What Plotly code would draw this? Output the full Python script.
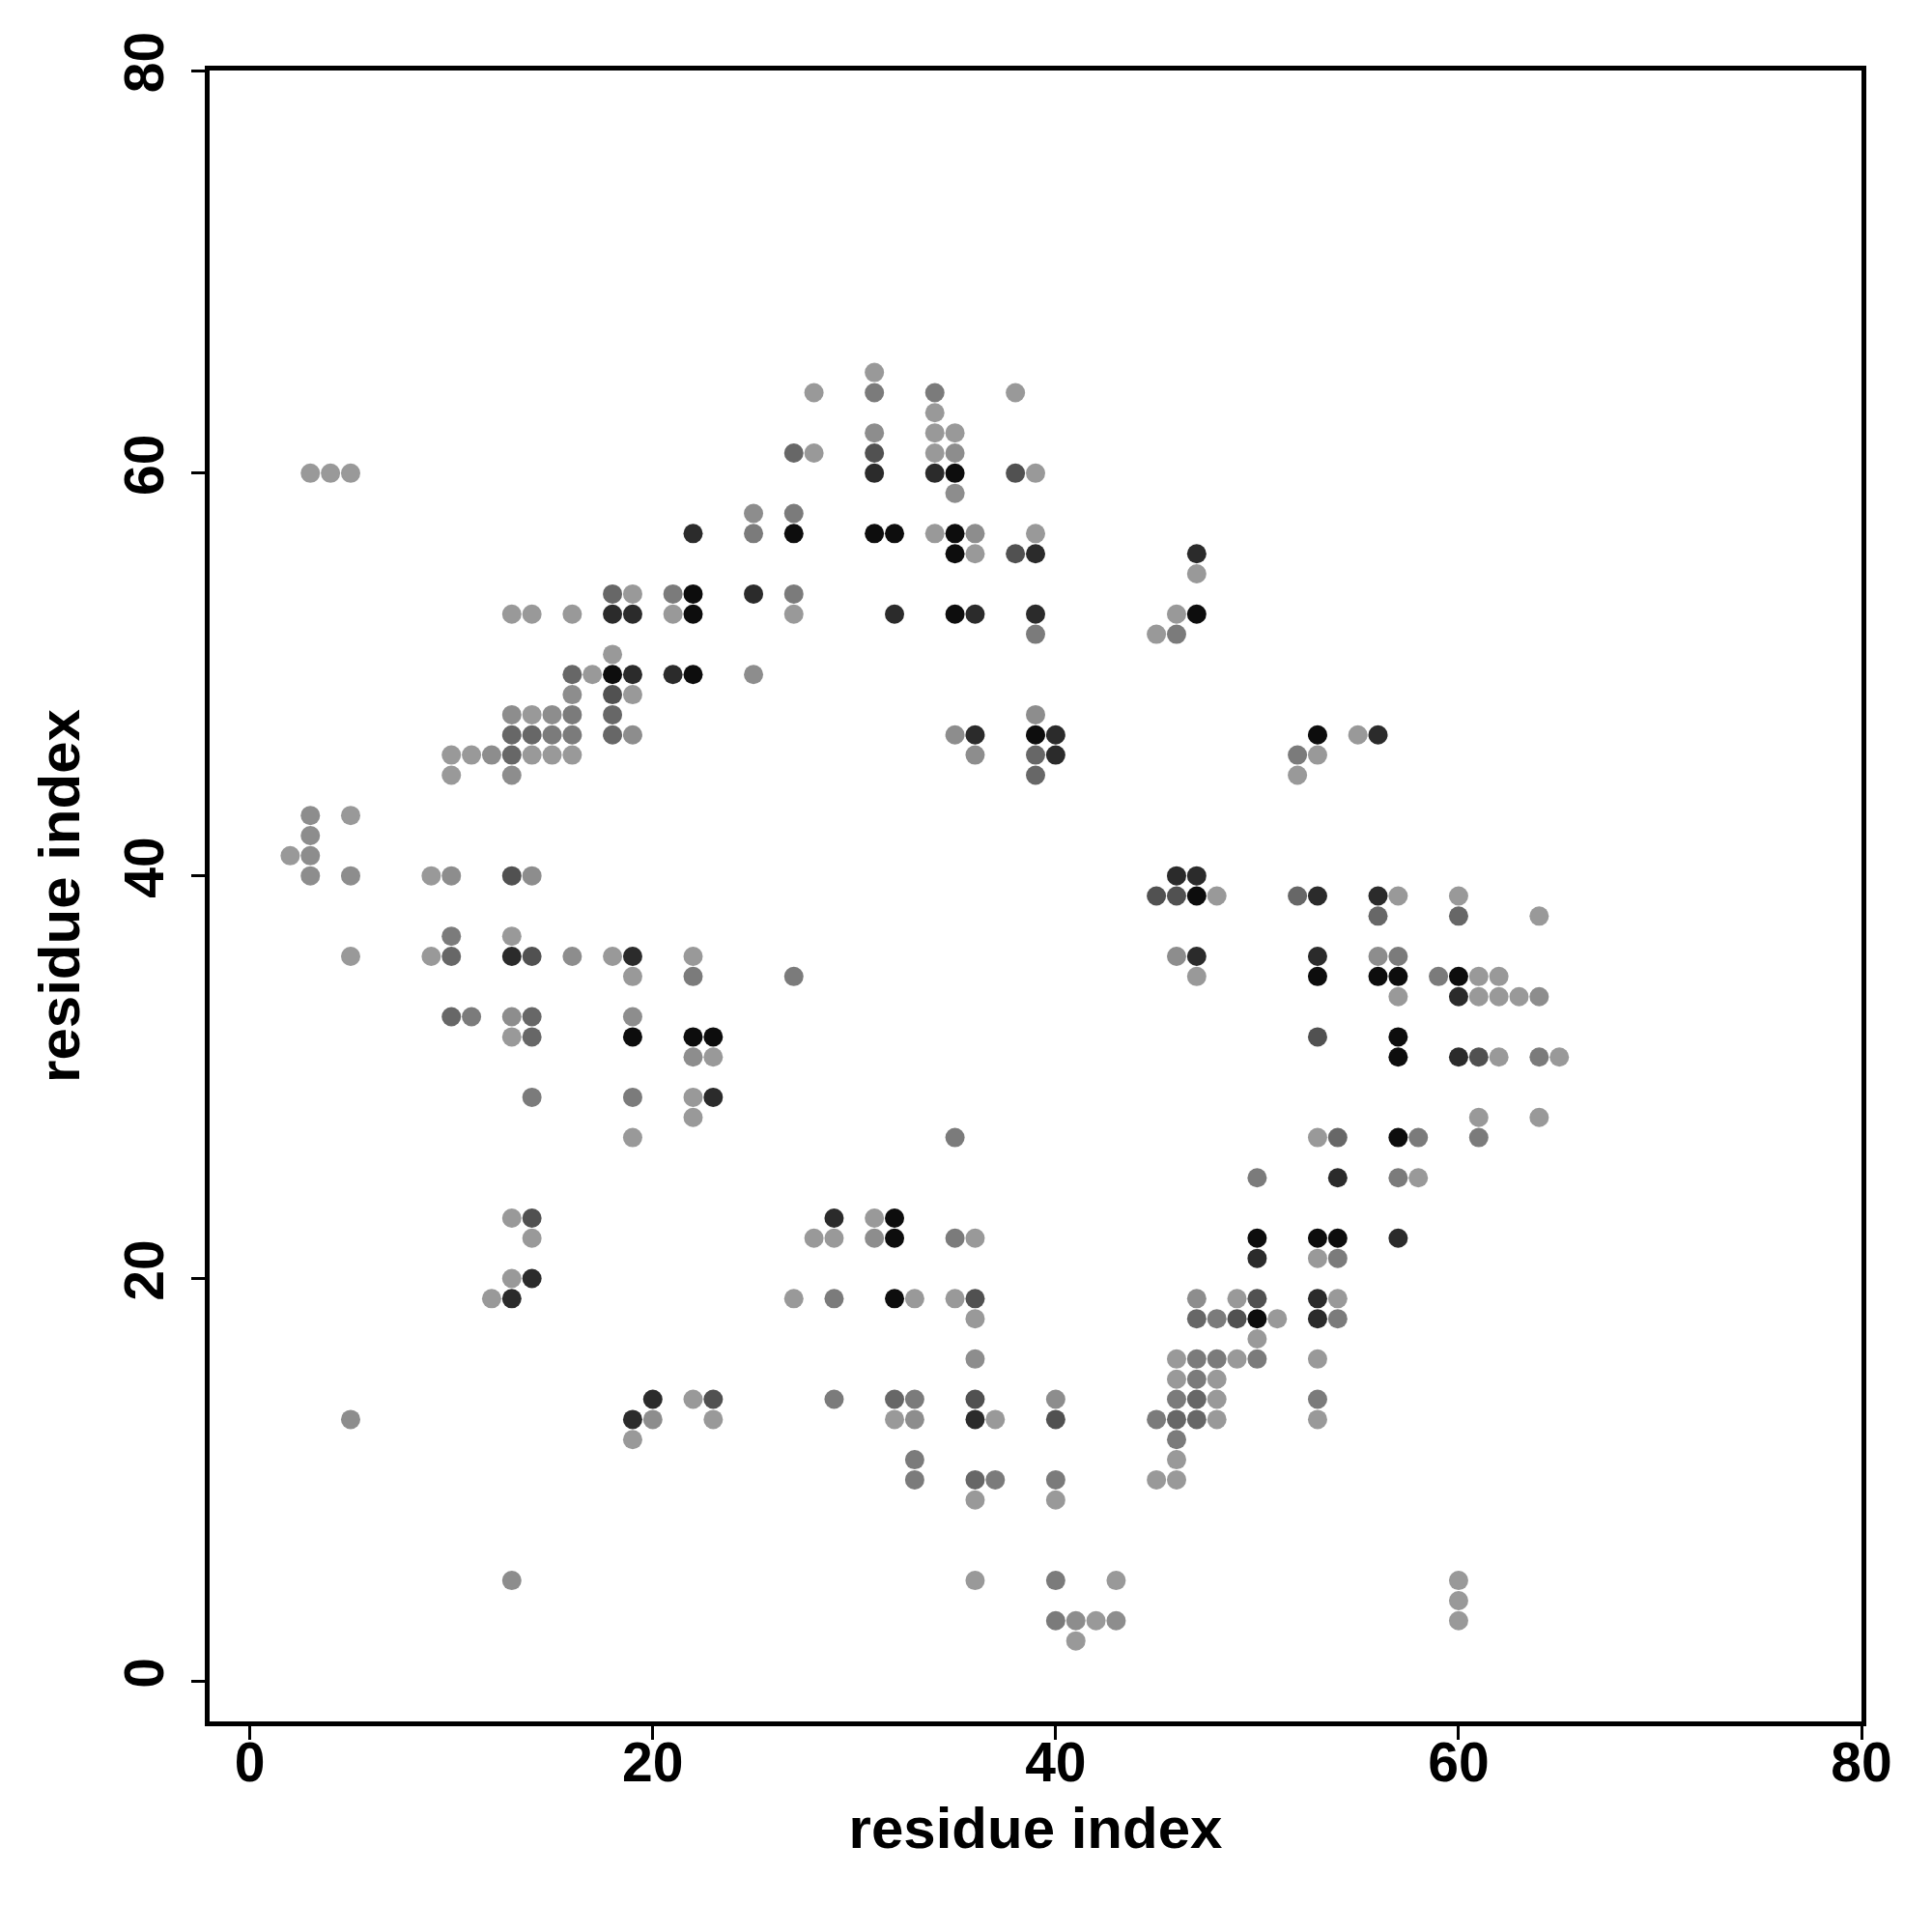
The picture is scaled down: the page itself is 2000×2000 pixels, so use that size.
import plotly.graph_objects as go

# Contact map: residue i (x), residue j (y), contact probability (grey shade)
res_i = (
    [2] + [3]*5 + [4] + [5]*5 + [9]*2 + [10]*6 + [11]*2 + [12]*2 + [13]*14 + [14]*12 +
    [15]*3 + [16]*7 + [17] + [18]*8 + [19]*13 + [20]*2 + [21]*3 + [22]*11 + [23]*5 +
    [25]*4 + [27]*7 + [28]*3 + [29]*4 + [31]*8 + [32]*7 + [33]*5 + [34]*6 + [35]*11 +
    [36]*14 + [37]*2 + [38]*3 + [39]*9 + [40]*8 + [41]*2 + [42] + [43]*2 + [45]*4 +
    [46]*12 + [47]*13 + [48]*6 + [49]*3 + [50]*7 + [51] + [52]*3 + [53]*14 + [54]*6 +
    [55] + [56]*5 + [57]*9 + [58]*2 + [59] + [60]*8 + [61]*5 + [62]*3 + [63] + [64]*4 + [65]
)

res_j = [
    41,
    60, 43, 42, 41, 40,
    60,
    60, 43, 40, 36, 13,
    40, 36,
    46, 45, 40, 37, 36, 33,
    46, 33,
    46, 19,
    53, 48, 47, 46, 45, 40, 37, 36, 33, 32, 23, 20, 19, 5,
    53, 48, 47, 46, 40, 36, 33, 32, 29, 23, 22, 20,
    48, 47, 46,
    53, 50, 49, 48, 47, 46, 36,
    50,
    54, 53, 51, 50, 49, 48, 47, 36,
    54, 53, 50, 49, 47, 36, 35, 33, 32, 29, 27, 13, 12,
    14, 13,
    54, 53, 50,
    57, 54, 53, 50, 36, 35, 32, 31, 29, 28, 14,
    32, 31, 29, 14, 13,
    58, 57, 54, 50,
    61, 58, 57, 54, 53, 35, 19,
    64, 61, 22,
    23, 22, 19, 14,
    65, 64, 62, 61, 60, 57, 23, 22,
    57, 53, 23, 22, 19, 14, 13,
    19, 14, 13, 11, 10,
    64, 63, 62, 61, 60, 57,
    62, 61, 60, 59, 57, 56, 53, 47, 27, 22, 19,
    57, 56, 53, 47, 46, 22, 19, 18, 16, 14, 13, 10, 9, 5,
    13, 10,
    64, 60, 56,
    60, 57, 56, 53, 52, 48, 47, 46, 45,
    47, 46, 14, 13, 10, 9, 5, 3,
    3, 2,
    3,
    5, 3,
    52, 39, 13, 10,
    53, 52, 40, 39, 36, 16, 15, 14, 13, 12, 11, 10,
    56, 55, 53, 40, 39, 36, 35, 19, 18, 16, 15, 14, 13,
    39, 18, 16, 15, 14, 13,
    19, 18, 16,
    25, 22, 21, 19, 18, 17, 16,
    18,
    46, 45, 39,
    47, 46, 39, 36, 35, 32, 27, 22, 21, 19, 18, 16, 14, 13,
    27, 25, 22, 21, 19, 18,
    47,
    47, 39, 38, 36, 35,
    39, 36, 35, 34, 32, 31, 27, 25, 22,
    27, 25,
    35,
    39, 38, 35, 34, 31, 5, 4, 3,
    35, 34, 31, 28, 27,
    35, 34, 31,
    34,
    38, 34, 31, 28,
    31,
]

prob = [
    0.02,
    0.02, 0.1, 0.1, 0.1, 0.1,
    0.02,
    0.02, 0.02, 0.1, 0.02, 0.1,
    0.02, 0.02,
    0.02, 0.02, 0.1, 0.22, 0.35, 0.35,
    0.02, 0.22,
    0.1, 0.02,
    0.02, 0.1, 0.35, 0.35, 0.1, 0.5, 0.02, 0.75, 0.1, 0.02, 0.02, 0.02, 0.75, 0.1,
    0.02, 0.02, 0.35, 0.02, 0.1, 0.5, 0.35, 0.35, 0.22, 0.5, 0.02, 0.75,
    0.1, 0.22, 0.02,
    0.02, 0.35, 0.1, 0.22, 0.22, 0.02, 0.1,
    0.02,
    0.35, 0.75, 0.02, 0.95, 0.5, 0.35, 0.35, 0.02,
    0.02, 0.75, 0.75, 0.02, 0.1, 0.75, 0.02, 0.1, 0.95, 0.22, 0.02, 0.75, 0.02,
    0.75, 0.1,
    0.22, 0.02, 0.75,
    0.75, 0.95, 0.95, 0.95, 0.02, 0.22, 0.95, 0.1, 0.02, 0.02, 0.02,
    0.95, 0.02, 0.75, 0.5, 0.02,
    0.1, 0.22, 0.75, 0.1,
    0.35, 0.22, 0.95, 0.22, 0.02, 0.22, 0.02,
    0.02, 0.02, 0.02,
    0.75, 0.02, 0.22, 0.22,
    0.02, 0.22, 0.1, 0.5, 0.75, 0.95, 0.02, 0.1,
    0.95, 0.75, 0.95, 0.95, 0.95, 0.35, 0.02,
    0.02, 0.22, 0.1, 0.22, 0.22,
    0.22, 0.02, 0.02, 0.02, 0.75, 0.02,
    0.02, 0.1, 0.95, 0.1, 0.95, 0.95, 0.95, 0.1, 0.22, 0.22, 0.02,
    0.1, 0.02, 0.75, 0.75, 0.1, 0.02, 0.5, 0.02, 0.1, 0.5, 0.75, 0.35, 0.02, 0.02,
    0.02, 0.22,
    0.02, 0.5, 0.5,
    0.02, 0.02, 0.75, 0.75, 0.22, 0.1, 0.95, 0.35, 0.35,
    0.75, 0.75, 0.1, 0.5, 0.22, 0.02, 0.22, 0.22,
    0.1, 0.02,
    0.02,
    0.02, 0.1,
    0.02, 0.5, 0.22, 0.02,
    0.02, 0.22, 0.75, 0.5, 0.1, 0.02, 0.02, 0.22, 0.35, 0.22, 0.02, 0.02,
    0.75, 0.02, 0.95, 0.75, 0.95, 0.75, 0.02, 0.1, 0.35, 0.22, 0.22, 0.35, 0.35,
    0.02, 0.22, 0.22, 0.02, 0.02, 0.02,
    0.02, 0.5, 0.02,
    0.22, 0.95, 0.75, 0.5, 0.95, 0.02, 0.22,
    0.02,
    0.22, 0.02, 0.35,
    0.95, 0.02, 0.75, 0.75, 0.95, 0.5, 0.02, 0.95, 0.02, 0.75, 0.75, 0.02, 0.22, 0.02,
    0.35, 0.75, 0.95, 0.22, 0.02, 0.22,
    0.02,
    0.75, 0.75, 0.35, 0.1, 0.95,
    0.02, 0.22, 0.95, 0.02, 0.95, 0.95, 0.95, 0.22, 0.75,
    0.22, 0.02,
    0.22,
    0.02, 0.35, 0.95, 0.75, 0.75, 0.02, 0.02, 0.02,
    0.02, 0.02, 0.5, 0.02, 0.22,
    0.02, 0.02, 0.02,
    0.02,
    0.02, 0.1, 0.22, 0.02,
    0.02,
]

assert len(res_i) == len(res_j) == len(prob), (len(res_i), len(res_j), len(prob))

tick_vals = [0, 20, 40, 60, 80]
tick_text = ["0", "20", "40", "60", "80"]
axis_title = "residue index"

FONT = "Liberation Sans"

fig = go.Figure(
    go.Scatter(
        x=res_i,
        y=res_j,
        mode="markers",
        marker=dict(
            size=20,
            color=prob,
            cmin=0,
            cmax=1,
            colorscale=[[0, "rgb(156,156,156)"], [1, "rgb(5,5,5)"]],
            showscale=False,
            line=dict(width=0),
        ),
        showlegend=False,
        hoverinfo="x+y",
    )
)

axis_common = dict(
    range=[-2, 80],
    tickmode="array",
    tickvals=tick_vals,
    ticktext=tick_text,
    showgrid=False,
    zeroline=False,
    showline=True,
    linecolor="black",
    linewidth=5,
    mirror=True,
    ticks="outside",
    ticklen=14,
    tickwidth=3,
    tickcolor="black",
    tickfont=dict(family=FONT, size=57, color="black", weight="bold"),
    title=dict(text=axis_title, font=dict(family=FONT, size=60, color="black", weight="bold")),
)

fig.update_xaxes(**axis_common)
fig.update_yaxes(**axis_common)
fig.update_xaxes(title_standoff=17, ticklabelstandoff=-25)
fig.update_yaxes(tickangle=-90, title_standoff=17, ticklabelstandoff=6)

fig.update_layout(
    width=2000,
    height=2000,
    margin=dict(l=209, r=81, t=65, b=226),
    plot_bgcolor="white",
    paper_bgcolor="white",
)

fig.write_html("out.html")
